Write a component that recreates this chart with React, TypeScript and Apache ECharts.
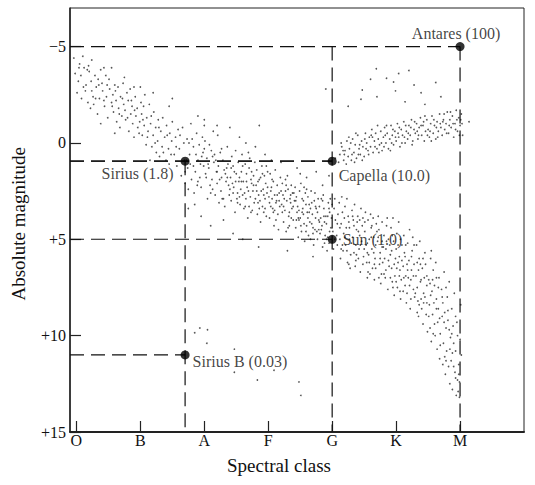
import React, { useEffect, useRef } from "react";
import * as echarts from "echarts";

// Spectral classes (x positions 0..6) and magnitude ticks
const spectralClasses = ["O", "B", "A", "F", "G", "K", "M"];
const magnitudeTicks = [-5, 0, 5, 10, 15];

// Labelled stars: spectral position, absolute magnitude, luminosity
const starNames = ["Antares", "Capella", "Sirius", "Sun", "Sirius B"];
const starClass = [6, 4, 1.7, 4, 1.7];
const starMag = [-5, 0.95, 0.95, 5, 11];
const starLum = ["100", "10.0", "1.8", "1.0", "0.03"];

// Star field: [spectral position, absolute magnitude]
const mainSequenceUpper: [number, number][] = [
  [-0.04,-4.4],[0.03,-3.2],[0.01,-2.6],[0.05,-4.1],[-0.02,-3.6],[0.08,-2.3],[0.12,-3.9],[0.1,-4.5],[0.15,-3.0],[0.07,-3.5],
  [0.18,-2.1],[0.14,-2.7],[0.2,-3.7],[0.23,-3.2],[0.19,-4.0],[0.26,-2.4],[0.22,-1.8],[0.29,-3.5],[0.31,-2.9],[0.27,-2.0],
  [0.34,-3.3],[0.36,-2.3],[0.33,-1.5],[0.38,-3.8],[0.41,-2.7],[0.44,-1.9],[0.4,-3.1],[0.47,-2.4],[0.46,-3.5],[0.49,-1.3],
  [0.52,-2.8],[0.55,-2.1],[0.51,-3.3],[0.58,-1.6],[0.57,-2.5],[0.6,-3.0],[0.63,-1.1],[0.62,-2.2],[0.66,-1.8],[0.65,-2.9],
  [0.69,-2.4],[0.71,-1.4],[0.68,-0.8],[0.74,-2.0],[0.73,-3.1],[0.77,-1.2],[0.79,-2.6],[0.76,-1.7],[0.82,-0.6],[0.81,-2.2],
  [0.85,-1.5],[0.84,-2.8],[0.88,-1.0],[0.87,-1.9],[0.9,-0.3],[0.93,-1.4],[0.92,-2.4],[0.96,-0.8],[0.95,-1.8],[0.99,-1.1],
  [1.01,-2.1],[1.03,-0.4],[1.02,-1.5],[1.06,-0.9],[1.05,-1.9],[1.09,0.1],[1.1,-1.3],[1.12,-0.6],[1.14,-2.0],[1.16,-1.0],
  [1.18,0.2],[1.2,-0.4],[1.21,-1.6],[1.24,-0.8],[1.25,0.5],[1.28,-1.2],[1.27,-0.1],[1.3,0.7],[1.32,-0.6],[1.35,-1.3],
  [1.34,0.2],[1.38,-0.3],[1.4,0.9],[1.41,-0.9],[1.44,0.3],[1.46,-0.5],[1.45,1.1],[1.49,-0.1],[1.5,-1.1],[1.53,0.6],
  [1.55,-0.3],[1.57,1.2],[0.38,-1.0],[0.75,-3.4],[1.15,0.9],[0.6,-0.5],[0.55,-3.9],[0.9,-2.9],[1.5,-2.3],[1.9,-1.4],
  [1.0,-2.9],[1.45,-1.9],[2.0,-1.2],[1.2,-2.6],[2.86,-0.9],[0.24,-4.3],[0.43,-3.9],[1.07,-2.5],
  [0.04,-3.9],[0.11,-2.9],[0.17,-3.8],[0.24,-2.7],[0.3,-2.3],[0.35,-3.0],[0.43,-2.2],[0.48,-3.0],[0.56,-1.9],[0.61,-2.7],
  [0.67,-1.5],[0.72,-2.3],[0.8,-1.3],[0.86,-2.2],[0.91,-1.7],[0.98,-0.5],[1.04,-1.2],[1.11,-0.3],[1.17,-1.4],[1.23,0.0],
  [1.29,-0.8],[1.36,0.5],[1.42,-0.4],[1.48,0.6],[1.56,0.2],[1.59,-0.7]
];

const mainSequenceMid: [number, number][] = [
  [1.61,0.3],[1.64,1.7],[1.66,-0.8],[1.69,0.9],[1.7,2.1],[1.73,-0.2],[1.74,1.3],[1.77,0.6],[1.79,-1.0],[1.8,1.9],
  [1.62,-0.4],[1.68,0.0],[1.75,2.4],[1.78,1.1],[1.83,0.2],[1.86,1.5],[1.84,2.6],[1.88,-0.5],[1.9,0.9],[1.93,1.8],
  [1.92,0.1],[1.95,2.3],[1.97,-0.3],[1.99,1.2],[1.87,0.6],[1.96,0.7],[2.02,1.6],[2.01,-0.1],[2.05,2.9],[2.04,0.8],
  [2.07,1.3],[2.09,2.2],[2.11,0.4],[2.12,1.9],[2.14,-0.6],[2.15,1.0],[2.17,2.7],[2.19,1.5],[2.08,0.1],[2.16,0.6],
  [2.2,2.1],[2.22,1.2],[2.23,3.1],[2.25,0.5],[2.27,1.8],[2.26,2.5],[2.29,0.9],[2.31,1.4],[2.32,3.3],[2.34,2.0],
  [2.36,0.2],[2.37,1.1],[2.39,2.7],[2.33,1.6],[2.21,-0.4],[2.38,2.2],[2.41,1.8],[2.43,0.7],[2.42,3.0],[2.46,2.3],
  [2.45,1.2],[2.48,3.6],[2.5,1.6],[2.49,0.4],[2.52,2.6],[2.54,2.0],[2.53,1.0],[2.56,3.2],[2.58,1.5],[2.57,2.4],
  [2.59,0.6],[2.44,2.1],[2.51,2.9],[2.55,1.8],[2.61,2.0],[2.62,3.4],[2.64,1.1],[2.63,2.6],[2.66,1.6],[2.68,3.9],
  [2.67,2.3],[2.7,1.3],[2.72,2.8],[2.71,0.8],[2.74,2.1],[2.75,3.5],[2.77,1.7],[2.76,2.5],[2.79,1.0],[2.78,3.1],
  [2.65,2.9],[2.73,1.9],[2.69,0.5],[2.81,2.2],[2.83,3.7],[2.82,1.4],[2.85,2.7],[2.86,1.9],[2.88,4.1],[2.87,3.0],
  [2.9,1.2],[2.92,2.4],[2.91,3.3],[2.94,1.7],[2.95,2.9],[2.97,3.8],[2.96,2.1],[2.99,1.5],[2.98,2.6],[2.84,2.0],
  [2.93,3.6],[2.89,2.5],[3.01,2.8],[3.03,1.6],[3.02,3.9],[3.05,2.3],[3.07,3.4],[3.06,1.9],[3.09,4.3],[3.1,2.7],
  [3.12,3.1],[3.11,1.4],[3.14,2.2],[3.15,3.7],[3.17,2.6],[3.16,4.5],[3.19,1.8],[3.18,3.3],[3.04,2.5],[3.13,3.0],
  [3.08,3.6],[3.21,3.2],[3.22,2.1],[3.24,4.1],[3.23,2.7],[3.26,3.5],[3.27,1.9],[3.29,3.0],[3.28,4.6],[3.31,2.4],
  [3.32,3.8],[3.34,2.9],[3.33,4.3],[3.36,2.2],[3.37,3.4],[3.39,4.0],[3.38,2.6],[3.25,2.9],[3.35,3.1],[3.3,1.7],
  [3.41,3.0],[3.43,4.4],[3.42,2.3],[3.45,3.6],[3.44,2.8],[3.47,4.9],[3.46,3.3],[3.49,2.5],[3.5,3.9],[3.52,4.6],
  [3.51,2.1],[3.54,3.4],[3.53,2.9],[3.56,4.2],[3.55,3.7],[3.58,2.6],[3.57,5.1],[3.59,3.2],[3.48,4.0],[3.6,2.4],
  [3.61,3.6],[3.63,4.8],[3.62,2.8],[3.65,4.1],[3.64,3.2],[3.67,2.5],[3.66,5.0],[3.69,3.7],[3.7,4.4],[3.72,3.0],
  [3.71,5.3],[3.74,3.9],[3.73,2.6],[3.76,4.6],[3.75,3.4],[3.78,2.9],[3.77,5.0],[3.79,4.0],[3.68,4.2],[3.8,3.3],
  [3.81,4.7],[3.83,2.9],[3.82,3.9],[3.85,5.4],[3.84,4.3],[3.87,3.4],[3.86,2.7],[3.89,4.8],[3.9,3.8],[3.92,5.6],
  [3.91,4.2],[3.94,3.1],[3.93,4.9],[3.96,3.6],[3.95,5.2],[3.98,4.4],[3.97,2.9],[3.99,3.9],[3.88,4.1],[4.01,4.6],
  [4.03,3.4],[4.02,5.5],[4.05,4.0],[4.04,2.9],[4.07,4.8],[4.09,3.7],[4.08,5.3],
  [1.75,3.4],[1.95,3.8],[2.1,4.3],[2.3,4.0],[2.45,4.7],[2.6,5.0],[2.85,5.4],[2.2,-0.9],[2.55,-0.3],[2.8,0.2],
  [2.95,0.6],[3.2,1.0],[3.45,1.3],[3.7,5.9],[3.3,5.6],[1.85,3.2],[2.0,-0.9],[2.4,-0.8],[2.65,0.0],[3.05,0.9],
  [3.6,1.8],[3.85,2.2],[3.95,1.7],[3.75,1.5],[3.5,1.6],
  [1.72,0.9],[1.81,-0.2],[1.9,2.0],[1.98,0.5],[2.06,1.1],[2.13,2.4],[2.18,0.9],[2.24,1.9],[2.28,2.9],[2.35,1.3],
  [2.4,2.4],[2.47,1.5],[2.52,3.1],[2.58,2.0],[2.6,2.7],[2.66,2.0],[2.7,3.3],[2.74,1.5],[2.8,2.9],[2.84,3.1],
  [2.88,1.8],[2.93,2.7],[2.97,1.2],[3.02,3.1],[3.06,2.9],[3.1,3.5],[3.14,2.7],[3.2,2.5],[3.24,3.3],[3.28,2.2],
  [3.33,3.6],[3.36,3.9],[3.4,2.6],[3.44,4.0],[3.48,3.5],[3.53,3.6],[3.56,2.3],[3.6,4.3],[3.64,3.6],[3.68,3.1],
  [3.73,4.5],[3.77,3.6],[3.8,4.1],[3.85,3.0],[3.88,5.2],[3.93,3.8],[3.96,4.6],[4.0,3.2],[4.04,5.0],[4.08,4.2],
  [1.7,1.5],[1.76,0.0],[1.83,1.2],[1.89,2.2],[1.94,1.1],[2.0,0.3],[2.03,1.8],[2.1,2.6],[2.13,0.7],[2.2,1.5],
  [2.27,0.3],[2.3,2.9],[2.36,1.8],[2.42,1.3],[2.45,2.6],[2.49,2.0],[2.55,2.8],[2.6,1.2],[2.64,3.3],[2.69,2.5],
  [2.73,3.6],[2.77,2.2],[2.82,2.5],[2.86,3.4],[2.91,1.6],[2.95,3.4],[2.99,2.3],[3.04,3.3],[3.08,2.0],[3.12,4.0],
  [3.17,3.0],[3.22,3.6],[3.27,2.5],[3.31,4.4],[3.35,2.7],[3.39,3.3],[3.43,3.0],[3.47,3.9],[3.51,4.3],[3.55,3.0],
  [3.59,4.6],[3.62,3.9],[3.66,3.4],[3.7,4.7],[3.74,3.3],[3.79,4.5],[3.83,4.5],[3.87,3.8],[3.91,5.0],[3.95,3.4]
];

const mainSequenceLower: [number, number][] = [
  [4.11,3.1],[4.12,5.0],[4.14,4.2],[4.13,6.0],[4.16,3.6],[4.18,4.7],[4.17,5.6],[4.2,3.3],[4.22,4.4],[4.21,5.3],
  [4.24,6.2],[4.25,3.8],[4.27,5.0],[4.26,4.1],[4.29,5.8],[4.15,2.8],[4.23,2.9],[4.28,6.5],
  [4.31,3.5],[4.32,4.9],[4.34,5.7],[4.33,4.0],[4.36,6.4],[4.35,3.2],[4.38,4.5],[4.37,5.3],[4.4,3.8],[4.41,6.0],
  [4.43,4.8],[4.42,5.5],[4.45,3.4],[4.44,6.7],[4.47,4.3],[4.46,5.1],[4.49,5.9],[4.48,3.9],[4.39,4.1],
  [4.51,4.6],[4.52,3.6],[4.54,6.2],[4.53,5.3],[4.56,4.0],[4.55,7.0],[4.58,5.0],[4.57,5.8],[4.6,3.7],[4.61,4.4],
  [4.63,6.5],[4.62,5.5],[4.65,4.9],[4.64,3.9],[4.67,6.0],[4.66,7.1],[4.69,4.2],[4.68,5.3],[4.59,6.8],[4.55,5.7],
  [4.71,5.1],[4.72,3.8],[4.74,6.3],[4.73,4.5],[4.76,7.3],[4.75,5.7],[4.78,4.1],[4.77,6.8],[4.8,5.4],[4.81,4.8],
  [4.83,7.0],[4.82,6.0],[4.85,4.3],[4.84,5.5],[4.87,7.6],[4.86,3.9],[4.89,6.4],[4.88,5.0],[4.79,6.2],[4.7,4.6],
  [4.91,5.8],[4.92,4.4],[4.94,7.2],[4.93,6.5],[4.96,5.1],[4.95,3.9],[4.98,6.9],[4.97,7.9],[5.0,5.5],[5.01,4.7],
  [5.03,6.2],[5.02,7.5],[5.05,5.9],[5.04,4.1],[5.07,8.1],[5.06,6.6],[5.09,5.3],[5.08,7.1],[4.99,6.0],[5.05,6.9],[4.93,5.6],
  [5.11,6.4],[5.12,4.8],[5.14,7.4],[5.13,5.7],[5.16,8.3],[5.15,6.9],[5.18,5.2],[5.17,7.8],[5.2,6.1],[5.21,4.5],
  [5.23,7.1],[5.22,8.6],[5.25,5.6],[5.24,6.6],[5.27,7.6],[5.26,4.9],[5.29,8.0],[5.28,6.3],[5.19,7.0],[5.14,5.9],
  [5.31,6.9],[5.32,5.3],[5.34,8.2],[5.33,7.5],[5.36,6.0],[5.35,9.0],[5.38,7.2],[5.37,5.1],[5.4,8.6],[5.41,6.5],
  [5.43,7.8],[5.42,9.4],[5.45,5.7],[5.44,7.0],[5.47,8.9],[5.46,6.3],[5.49,9.8],[5.48,7.4],[5.39,8.1],[5.35,6.6],
  [5.51,7.1],[5.52,8.4],[5.54,6.0],[5.53,9.6],[5.56,7.7],[5.55,10.3],[5.58,6.6],[5.57,8.9],[5.6,7.4],[5.61,10.0],
  [5.63,8.1],[5.62,6.2],[5.65,9.3],[5.64,10.7],[5.67,7.0],[5.66,8.6],[5.69,9.9],[5.68,11.2],[5.59,8.3],[5.55,5.6],
  [5.71,7.6],[5.72,9.0],[5.74,10.4],[5.73,8.3],[5.76,11.1],[5.75,6.7],[5.78,9.6],[5.77,12.0],[5.8,8.0],[5.79,10.8],
  [5.82,11.6],[5.81,9.2],[5.84,12.5],[5.83,7.2],[5.85,10.1],[5.76,8.8],
  [5.86,11.3],[5.87,8.6],[5.88,12.8],[5.9,10.4],[5.89,9.5],[5.92,11.9],[5.91,7.8],[5.94,13.1],[5.93,10.8],[5.96,12.3],
  [5.95,9.3],[5.98,11.5],[5.97,12.9],[6.0,10.2],[5.99,13.2],[6.01,8.4],[6.02,11.0],
  [4.12,4.4],[4.16,5.3],[4.19,3.9],[4.23,5.6],[4.27,4.4],[4.3,5.2],[4.34,4.3],[4.37,6.1],[4.41,4.6],[4.44,5.3],
  [4.48,6.3],[4.51,4.1],[4.55,5.2],[4.58,6.2],[4.61,4.9],[4.65,5.7],[4.68,6.5],[4.72,4.9],[4.75,6.0],[4.78,5.4],
  [4.81,6.8],[4.85,5.1],[4.88,6.1],[4.91,7.0],[4.94,4.8],[4.97,6.3],[5.0,7.2],[5.03,5.3],[5.06,7.7],[5.09,6.1],
  [5.12,7.0],[5.15,5.3],[5.18,6.6],[5.21,7.4],[5.24,5.9],[5.27,6.9],[5.3,7.8],[5.33,6.2],[5.36,8.4],[5.39,7.1],
  [5.42,6.0],[5.45,8.0],[5.48,6.9],[5.51,9.0],[5.54,7.9],[5.57,7.1],[5.6,9.4],[5.63,8.6],[5.66,7.5],[5.69,10.5],
  [5.72,8.0],[5.75,9.3],[5.78,11.3],[5.81,8.7],[5.84,10.7],[5.87,9.9],[5.9,11.6],[5.93,12.2],[5.96,10.0],[5.99,12.4],
  [4.14,5.5],[4.2,4.9],[4.26,6.3],[4.32,3.8],[4.38,5.8],[4.43,4.0],[4.5,5.5],[4.56,6.7],[4.62,4.3],[4.66,6.3],
  [4.73,7.0],[4.78,5.1],[4.84,6.6],[4.9,5.3],[4.95,7.5],[5.01,6.5],[5.07,5.0],[5.11,7.7],[5.17,6.3],[5.23,8.1],
  [5.28,5.3],[5.33,8.8],[5.38,6.3],[5.43,8.3],[5.48,8.3],[5.53,7.3],[5.58,9.9],[5.63,7.0],[5.68,9.1],[5.73,11.5],
  [5.78,7.5],[5.83,9.7],[5.88,10.9],[5.93,9.0],[5.98,12.0]
];

const giants: [number, number][] = [
  [4.12,0.6],[4.15,0.2],[4.18,0.9],[4.2,0.4],[4.23,-0.1],[4.25,0.7],[4.27,0.3],[4.3,0.9],[4.32,-0.2],[4.34,0.5],
  [4.36,0.1],[4.38,0.8],[4.4,-0.4],[4.42,0.3],[4.44,0.6],[4.46,-0.1],[4.48,0.2],[4.5,0.7],[4.52,-0.5],[4.54,0.0],
  [4.56,0.4],[4.58,-0.3],[4.6,0.2],[4.62,-0.7],[4.64,0.5],[4.66,-0.1],[4.68,-0.5],[4.7,0.3],[4.72,-0.2],[4.74,0.1],
  [4.76,-0.6],[4.78,0.4],[4.8,-0.3],[4.82,-0.8],[4.84,0.0],[4.86,-0.5],[4.88,0.3],[4.9,-0.2],[4.92,-0.9],[4.94,-0.4],
  [4.96,0.1],[4.98,-0.6],[5.0,-0.1],[5.02,-1.0],[5.04,-0.3],[5.06,0.2],[5.08,-0.7],[5.1,-0.4],[5.12,-1.1],[5.14,0.0],
  [5.16,-0.6],[5.18,-0.2],[5.2,-0.9],[5.22,-0.4],[5.24,-1.2],[5.26,-0.1],[5.28,-0.7],[5.3,-0.5],[5.32,-1.0],[5.34,-0.2],
  [5.36,-0.8],[5.38,-1.3],[5.4,-0.4],[5.42,-0.9],[5.44,-0.1],[5.46,-0.6],[5.48,-1.2],[5.5,-0.7],[5.52,-0.3],[5.54,-1.0],
  [5.56,-1.4],[5.58,-0.5],[5.6,-0.9],[5.62,-0.2],[5.64,-1.1],[5.66,-0.6],[5.68,-1.5],[5.7,-0.8],[5.72,-0.4],[5.74,-1.2],
  [5.76,-0.7],[5.78,-1.0],[5.8,-1.6],[5.82,-0.5],[5.84,-1.2],[5.86,-0.8],[5.88,-1.4],[5.9,-0.3],[5.92,-1.0],[5.94,-1.7],
  [5.96,-0.6],[5.98,-1.3],[6.0,-0.9],[6.02,-1.5],[6.04,-0.4],[6.14,-1.1],
  [4.17,0.4],[4.29,0.0],[4.41,0.6],[4.53,0.3],[4.63,-0.3],[4.73,0.5],[4.83,-0.4],[4.93,0.0],[5.03,-0.5],[5.13,-0.3],
  [5.23,-0.8],[5.33,-0.6],[5.43,-1.1],[5.53,-0.6],[5.63,-0.8],[5.73,-1.1],[5.83,-0.9],[5.93,-0.7],[6.01,-1.2],[4.1,1.0],
  [4.05,0.8],[4.22,1.1],[4.35,1.0],
  [4.14,0.0],[4.19,0.6],[4.26,-0.3],[4.31,0.6],[4.37,-0.5],[4.43,0.1],[4.47,0.9],[4.51,-0.2],[4.57,0.6],[4.61,-0.4],
  [4.67,0.2],[4.71,-0.9],[4.77,0.0],[4.81,0.2],[4.85,-0.9],[4.91,0.4],[4.95,-0.7],[4.99,-0.3],[5.05,-0.8],[5.09,0.0],
  [5.15,-0.9],[5.19,-0.5],[5.25,0.1],[5.29,-1.1],[5.35,-0.4],[5.39,-0.9],[5.45,-1.4],[5.49,-0.4],[5.55,-0.1],[5.59,-1.2],
  [5.65,-0.3],[5.69,-1.0],[5.75,-1.5],[5.79,-0.5],[5.85,-1.6],[5.89,-1.0],[5.95,-1.2],[5.99,-0.4],[6.03,-1.0]
];

const supergiants: [number, number][] = [
  [4.69,-3.85],[5.04,-3.6],[5.2,-3.76],[4.85,-3.35],[4.96,-3.16],[4.47,-2.75],[4.7,-2.4],[4.99,-2.7],[5.14,-2.13],
  [5.28,-3.0],[5.62,-3.13],[5.39,-2.6],[4.45,-2.27],[3.9,-2.8],[4.6,-3.3],[5.45,-2.0],[4.25,-1.9],[5.7,-2.4]
];

const whiteDwarfs: [number, number][] = [
  [1.85,9.85],[2.05,9.7],[2.04,10.4],[2.47,10.7],[2.47,11.9],[2.83,12.3],[3.09,11.8],[3.48,12.4],[3.51,13.1],[1.93,9.6]
];

const fieldStars = [
  ...mainSequenceUpper,
  ...mainSequenceMid,
  ...mainSequenceLower,
  ...giants,
  ...supergiants,
  ...whiteDwarfs,
];

const SERIF = "'Liberation Serif', 'Times New Roman', serif";
const X_MIN = -0.1;
const X_MAX = 7.0;
const Y_MIN = -7;
const Y_MAX = 15;

const labelPlacement: Record<string, any> = {
  Antares: { position: "top", distance: 1, offset: [-4, 0] },
  Capella: { position: "right", distance: 2, offset: [0, 14] },
  Sirius: { position: "left", distance: 7, offset: [0, 12] },
  Sun: { position: "right", distance: 6 },
  "Sirius B": { position: "right", distance: 3, offset: [0, 7] },
};

function buildGuides(): [number, number][][] {
  // dashed guides from the axes to each labelled star
  const guides: [number, number][][] = [];
  starNames.forEach((name, i) => {
    const x = starClass[i];
    const y = starMag[i];
    if (name !== "Sirius") guides.push([[X_MIN, y], [x, y]]);
    if (name === "Antares" || name === "Sirius") guides.push([[x, y], [x, Y_MAX]]);
  });
  // Sirius line runs on to Capella; the G line runs from Antares' level to the base
  const sirius = starNames.indexOf("Sirius");
  const capella = starNames.indexOf("Capella");
  guides.push([[X_MIN, starMag[sirius]], [starClass[capella], starMag[capella]]]);
  guides.push([[starClass[capella], starMag[0]], [starClass[capella], Y_MAX]]);
  return guides;
}

export default function App() {
  const ref = useRef<HTMLDivElement>(null);
  useEffect(() => {
    if (!ref.current) return;
    const chart = echarts.init(ref.current, null, { renderer: "svg" });
    const guides = buildGuides();
    const dashStyle = { color: "#111", width: 1.2, type: [14, 7] as number[] };
    chart.setOption({
      animation: false,
      backgroundColor: "#fff",
      textStyle: { fontFamily: SERIF },
      grid: {
        left: 70,
        right: 11,
        top: 8,
        bottom: 53,
        show: true,
        borderColor: "#222",
        borderWidth: 1,
      },
      xAxis: {
        type: "value",
        min: X_MIN,
        max: X_MAX,
        axisLine: { onZero: false, lineStyle: { color: "#222", width: 2 } },
        axisTick: {
          inside: true,
          length: 11,
          customValues: spectralClasses.map((_, i) => i),
          lineStyle: { color: "#222", width: 1.2 },
        },
        axisLabel: {
          customValues: spectralClasses.map((_, i) => i),
          formatter: (v: number) => spectralClasses[Math.round(v)] ?? "",
          color: "#111",
          fontFamily: SERIF,
          fontSize: 16,
          margin: 0,
        },
        splitLine: { show: false },
      },
      yAxis: {
        type: "value",
        inverse: true,
        min: Y_MIN,
        max: Y_MAX,
        axisLine: { onZero: false, lineStyle: { color: "#222", width: 1.5 } },
        axisTick: {
          inside: true,
          length: 11,
          customValues: magnitudeTicks,
          lineStyle: { color: "#222", width: 1.2 },
        },
        axisLabel: {
          customValues: magnitudeTicks,
          formatter: (v: number) => (v === 0 ? "0" : v < 0 ? "\u2212" + Math.abs(v) : "+" + v),
          color: "#111",
          fontFamily: SERIF,
          fontSize: 16,
          margin: 4,
        },
        splitLine: { show: false },
      },
      graphic: [
        {
          type: "text",
          left: 9,
          top: 147,
          rotation: Math.PI / 2,
          style: {
            text: "Absolute magnitude",
            fontFamily: SERIF,
            fontSize: 19,
            fill: "#111",
          },
        },
        {
          type: "text",
          left: 227,
          top: 456,
          style: {
            text: "Spectral class",
            fontFamily: SERIF,
            fontSize: 19,
            fill: "#111",
          },
        },
      ],
      series: [
        ...guides.map((g) => ({
          type: "line",
          data: g,
          symbol: "none",
          silent: true,
          lineStyle: dashStyle,
          z: 3,
        })),
        {
          type: "scatter",
          data: fieldStars,
          symbolSize: 1.7,
          itemStyle: { color: "#2a2a2a" },
          silent: true,
          z: 2,
        },
        {
          type: "scatter",
          data: starNames.map((name, i) => ({
            value: [starClass[i], starMag[i]],
            label: {
              show: true,
              formatter: `${name} (${starLum[i]})`,
              color: "#111",
              fontFamily: SERIF,
              fontSize: 16,
              ...labelPlacement[name],
            },
          })),
          symbolSize: 9,
          itemStyle: { color: "#000" },
          z: 5,
        },
      ],
    });
    return () => chart.dispose();
  }, []);
  return (
    <div
      ref={ref}
      style={{ position: "fixed", left: 0, top: 0, width: 535, height: 485, background: "#fff" }}
    />
  );
}
